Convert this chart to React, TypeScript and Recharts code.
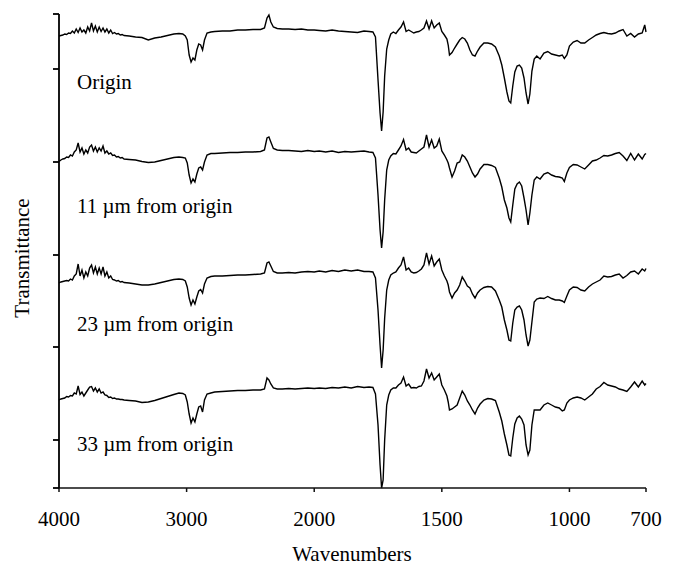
import { Line, LineChart, XAxis, YAxis } from "recharts";

// wavenumbers (cm-1), shared by all four spectra
const wavenumbers = [
  4000, 3985, 3970, 3955, 3940, 3925, 3910, 3895, 3880, 3865, 3850, 3835, 3820, 3805, 3790, 3775, 3760, 3745, 3730, 3715,
  3700, 3685, 3670, 3655, 3640, 3625, 3610, 3595, 3580, 3565, 3550, 3535, 3520, 3505, 3490,
  3450, 3400, 3350, 3300, 3250, 3200, 3150, 3100, 3060, 3030,
  3010, 2995, 2980, 2965, 2950, 2935, 2920, 2905, 2890, 2875, 2860, 2840, 2810, 2780,
  2720, 2660, 2600, 2540, 2480, 2420, 2390, 2370, 2355, 2340, 2320, 2290, 2250, 2200, 2150, 2100, 2050, 2000,
  1980, 1955, 1930, 1905, 1880, 1855, 1830, 1805, 1785,
  1770, 1760, 1750, 1742, 1736, 1730, 1724, 1716, 1708, 1700, 1690,
  1680, 1670, 1660, 1650, 1640, 1630, 1620, 1610, 1600, 1590, 1580, 1570, 1560, 1550, 1540, 1530, 1520, 1510, 1500, 1490,
  1480, 1475, 1470,
  1460, 1450, 1440, 1430, 1420, 1410, 1400, 1390, 1380, 1370, 1360, 1350, 1335, 1320, 1305, 1290, 1275,
  1265, 1255, 1245, 1237, 1230, 1222, 1214, 1205, 1196, 1187, 1178, 1170, 1162, 1155, 1147, 1138, 1128,
  1115, 1100, 1085, 1070, 1055, 1040, 1028, 1020, 1010, 1000,
  985, 970, 955, 940, 925, 910, 895, 880, 865, 850, 835, 820, 805, 790, 775, 760, 745, 730, 715, 705, 700,
];

// transmittance, arbitrary units (spectra stacked with offsets)
const origin = [
  452, 452.5, 453, 454, 453.5, 455, 454.5, 457, 455, 459, 455.5, 460, 456, 458, 455, 461, 457, 465, 457, 462,
  456, 461, 456.5, 460, 456, 459, 455, 458, 454.5, 455.5, 454, 454.5, 453, 453.5, 452.5,
  452, 451, 450.5, 448, 450, 451, 452.5, 454, 454.5, 454,
  452, 448, 433, 426, 430, 428, 438, 444, 443, 438, 448, 455, 456, 456.5,
  457, 457, 458, 458, 458.5, 458.5, 460, 470, 473, 466, 461, 459.5, 459, 459, 458.5, 459, 458, 458,
  457.5, 457, 458, 457, 456.5, 456, 455.5, 457, 456.5,
  456, 451, 408, 375, 357, 376, 412, 439, 448, 454, 456,
  454.5, 458, 461, 466, 456.5, 458, 456.5, 455, 456, 456.5, 458, 460, 467, 459, 467, 460, 463, 465, 456.5, 453,
  449, 443, 433,
  435.5, 440, 444, 448, 450.5, 449, 445, 438, 433, 432, 437, 441, 445, 445, 444, 441, 432,
  423, 410, 396, 387, 385, 402, 416, 422, 423, 420, 410, 395, 384, 394, 417, 429, 432,
  429, 435, 436.5, 434, 433, 432, 433, 429.5, 433, 442,
  446, 447.5, 445, 445, 448, 450.5, 453, 454.5, 455.5, 454.5, 454, 455, 457, 458.5, 452, 454.5, 451, 454, 455, 463, 456,
];

const um11 = [
  326.5, 328, 329, 329.5, 331, 330.5, 333, 332, 336, 338, 345, 336, 340, 334, 338, 335, 341, 343, 337, 341,
  336, 340, 337, 342, 335, 337, 334, 335, 332.5, 333, 331, 331.5, 330, 330.5, 329,
  328.5, 328, 326.5, 325.5, 326, 327.5, 329, 330.5, 331, 330.5,
  330, 325, 313, 305, 309, 306, 314, 320, 321, 318, 326, 333, 334.5, 334.5,
  335, 335.5, 335.5, 336, 336, 336.5, 338, 350, 351, 346, 339.5, 338, 337.5, 337.5, 337, 336.5, 337.5, 336.5,
  337, 336, 337, 335.5, 336.5, 336, 336.5, 337, 336,
  335.5, 330, 293, 258, 240, 256, 288, 318, 328, 332, 334.5,
  334, 338, 342, 348.5, 338, 340, 336, 335.5, 335, 337, 339, 341, 353, 341, 348, 340, 342, 349, 337, 333,
  328, 325, 320,
  311, 317, 325, 326, 333, 331, 327, 321, 315, 311, 314, 319, 323.5, 323.5, 322.5, 320.5, 310,
  301, 288, 280, 270, 266, 283, 299, 304, 306, 302, 290, 278, 263, 275, 293, 308, 311,
  309, 314, 315.5, 313, 311.5, 311, 310, 306.5, 315, 320.5,
  323.5, 323, 321, 319, 323, 327, 328, 330, 332.5, 332, 333, 334.5, 335.5, 332, 327.5, 334.5, 328, 334, 329, 333.5, 334.5,
];

const um23 = [
  205, 206, 206.5, 207, 207.5, 207, 209, 208, 212, 214, 224, 212, 218, 210, 216, 212, 220, 223, 215, 221,
  214, 220, 214, 221, 212, 216, 210, 212, 208.5, 208, 207, 207.5, 206, 206.5, 205.5,
  205, 204, 203, 203, 204, 205.5, 207, 208.5, 209, 208.5,
  207, 201, 190, 183, 188, 184, 191, 197, 198.5, 195, 204, 210, 211.5, 212,
  212, 212.5, 213, 213, 213.5, 214, 215, 225, 226, 222, 216.5, 215, 215, 215.5, 215, 216, 216.5, 216,
  217, 216, 217.5, 216.5, 218, 217, 218, 216.5, 216.5,
  216, 210, 178, 143, 120, 138, 170, 198, 208, 213, 215,
  216, 220, 223, 231, 218, 220, 216, 215, 215.5, 217, 219, 223, 235, 224, 232, 222, 226, 229, 218, 212,
  207, 203, 196,
  190, 195, 198, 203, 211, 207, 202, 200, 194, 190, 195, 198, 200.5, 201.5, 201, 197, 188,
  181, 168, 158, 148, 147, 165, 178, 181, 182, 178, 168, 153, 142, 148, 166, 186, 189,
  190, 189.5, 191.5, 189.5, 188, 188, 187, 185.5, 192, 198,
  201, 200.5, 198, 197, 201, 204, 206, 208, 212, 211, 211.5, 213, 214, 210, 212.5, 216, 217, 214, 219, 217, 219.5,
];

const um33 = [
  88, 89, 89.5, 90, 91.5, 91, 92.5, 92, 95, 94, 102, 93.5, 96, 92, 95, 98, 101, 101.5, 97, 100,
  96, 99, 95, 96, 93, 92.5, 90.5, 91, 89.5, 90, 89, 89, 88.5, 88.5, 88,
  87.5, 87, 85.5, 86, 87.5, 89.5, 91.5, 93.5, 95, 94.5,
  93, 86, 74, 65, 70, 66, 74, 81, 82, 76, 88, 94, 95, 96,
  96.5, 97, 97.5, 97.5, 98, 98, 99, 110, 108, 104, 100, 99, 99, 99.5, 99, 99.5, 100, 99.5,
  100, 99.5, 100.5, 100, 101, 100, 101.5, 100.5, 101,
  100.5, 94, 63, 23, 0, 8, 48, 83, 93, 98, 100,
  100, 103, 105, 111, 102, 104, 100, 100.5, 100, 101.5, 102, 107, 119, 110, 115, 108, 111, 114, 103, 98,
  92, 86, 78,
  79, 81, 83, 90, 97, 93, 87, 83, 78, 74, 80, 84, 88, 89.5, 89, 87.5, 76,
  67, 54, 43, 33, 32, 50, 64, 70, 72, 69, 63, 43, 33, 38, 63, 78, 78,
  78, 83, 85, 83, 81, 80, 77, 78, 85, 88,
  90, 91, 90, 88, 91, 94, 99, 101.5, 105.5, 103, 102, 101, 99, 98, 96.5, 101, 106, 101, 107, 103, 104.5,
];

const seriesKeys = ["origin", "um11", "um23", "um33"];
const traceLabels = ["Origin", "11 \u00b5m from origin", "23 \u00b5m from origin", "33 \u00b5m from origin"];
const xTickLabels = [4000, 3000, 2000, 1500, 1000, 700];
const yTicks = [0, 48, 141, 233, 326, 419, 474];

// the instrument plot expands the scale 2x below 2000 cm-1
const toAxis = (w: number) => (w >= 2000 ? 4000 - w : 2000 + 2 * (2000 - w));
const fromAxis = (u: number) => (u <= 2000 ? 4000 - u : 2000 - (u - 2000) / 2);

const data = wavenumbers.map((w, i) => ({
  u: toAxis(w),
  origin: origin[i],
  um11: um11[i],
  um23: um23[i],
  um33: um33[i],
}));

const font = "'Liberation Serif', 'Times New Roman', serif";
const labelY = [89, 213, 331, 451];

export default function App() {
  return (
    <div style={{ position: "absolute", left: 0, top: 0, width: 674, height: 566, background: "#fff" }}>
      <LineChart width={674} height={566} data={data} margin={{ top: 14, right: 28, left: 0, bottom: 0 }}>
        <XAxis
          type="number"
          dataKey="u"
          domain={[0, 4600]}
          ticks={xTickLabels.map(toAxis)}
          interval={0}
          tickFormatter={(u) => String(Math.round(fromAxis(u)))}
          height={78}
          tickSize={4}
          tickMargin={19}
          stroke="#111"
          strokeWidth={1.5}
          tick={{ fill: "#000", fontSize: 21, fontFamily: font }}
        />
        <YAxis
          type="number"
          domain={[0, 474]}
          ticks={yTicks}
          interval={0}
          width={59}
          tickSize={6}
          tickFormatter={() => ""}
          stroke="#000"
          strokeWidth={1.8}
        />
        {seriesKeys.map((key) => (
          <Line
            key={key}
            type="linear"
            dataKey={key}
            stroke="#000"
            strokeWidth={1.4}
            dot={false}
            isAnimationActive={false}
          />
        ))}
      </LineChart>
      <svg
        width={674}
        height={566}
        style={{ position: "absolute", left: 0, top: 0, pointerEvents: "none" }}
        fontFamily={font}
        fontSize={21}
      >
        {traceLabels.map((t, i) => (
          <text key={t} x={77} y={labelY[i]} fill="#000">
            {t}
          </text>
        ))}
        <text x={29} y={258} textAnchor="middle" transform="rotate(-90 29 258)" fill="#000">
          Transmittance
        </text>
        <text x={352} y={561} textAnchor="middle" fill="#000">
          Wavenumbers
        </text>
      </svg>
    </div>
  );
}
